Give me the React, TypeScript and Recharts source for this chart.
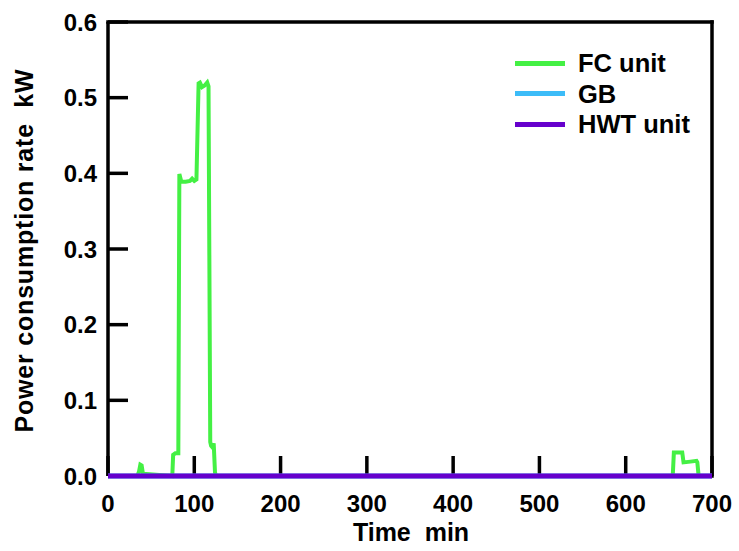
import React from 'react';
import { LineChart, Line, XAxis, YAxis, Legend } from 'recharts';

const xTicks = [0, 100, 200, 300, 400, 500, 600, 700];
const yTicks = [0, 0.1, 0.2, 0.3, 0.4, 0.5, 0.6];

const fcTime = [0, 34, 36, 37.5, 39, 40.5, 74.5, 75.5, 78, 81.5, 82.7, 85, 90, 95, 97.5, 100, 102.5, 105, 106.5, 109, 112, 115, 116.5, 118.5, 119.5, 121, 122.5, 124, 125, 654.5, 655.8, 665.5, 667, 675, 682, 683, 684.5, 700];
const fcPower = [0, 0, 0.006, 0.015, 0.014, 0.003, 0, 0.028, 0.03, 0.03, 0.399, 0.389, 0.389, 0.39, 0.393, 0.39, 0.392, 0.519, 0.52, 0.514, 0.516, 0.52, 0.515, 0.045, 0.04, 0.038, 0.043, 0.005, 0, 0, 0.031, 0.031, 0.018, 0.019, 0.02, 0.018, 0, 0];

const gbTime = [0, 700];
const gbPower = [0, 0];

const hwtTime = [0, 700];
const hwtPower = [0, 0];

const toData = (ts: number[], vs: number[]) => ts.map((t, i) => ({ t, v: vs[i] }));
const fcData = toData(fcTime, fcPower);
const gbData = toData(gbTime, gbPower);
const hwtData = toData(hwtTime, hwtPower);

const FONT = '"Liberation Sans", Arial, sans-serif';
const AX = 3.5;

const W = 739;
const H = 551;
const M_TOP = 22;
const M_RIGHT = 27;
const Y_W = 108;
const X_H = 75;
const PLOT_W = W - M_RIGHT - Y_W;
const PLOT_H = H - X_H - M_TOP;
const X_MAX = xTicks[xTicks.length - 1];
const Y_MAX = yTicks[yTicks.length - 1];

const XTick = (props: any) => {
  const { x, y, payload } = props;
  const isLast = Number(payload.value) === X_MAX;
  return (
    <g>
      <line x1={x} y1={y} x2={x} y2={y - 20} stroke="#000" strokeWidth={AX} />
      {isLast && <line x1={x} y1={y + AX / 2} x2={x} y2={y - PLOT_H - AX / 2} stroke="#000" strokeWidth={AX} />}
      <text x={x} y={y + 36} textAnchor="middle" fontFamily={FONT} fontWeight="bold" fontSize={24} fill="#000">
        {payload.value}
      </text>
    </g>
  );
};

const YTick = (props: any) => {
  const { x, y, payload } = props;
  const isLast = Math.abs(Number(payload.value) - Y_MAX) < 1e-9;
  return (
    <g>
      <line x1={x} y1={y} x2={x + 20} y2={y} stroke="#000" strokeWidth={AX} />
      {isLast && <line x1={x - AX / 2} y1={y} x2={x + PLOT_W + AX / 2} y2={y} stroke="#000" strokeWidth={AX} />}
      <text x={x - 11} y={y + 8.6} textAnchor="end" fontFamily={FONT} fontWeight="bold" fontSize={24} fill="#000">
        {Number(payload.value).toFixed(1)}
      </text>
    </g>
  );
};

const renderLegend = (props: any) => {
  const { payload } = props;
  return (
    <div style={{ fontFamily: FONT, fontWeight: 'bold', fontSize: 25.5, color: '#000' }}>
      {payload.map((p: any) => (
        <div key={p.value} style={{ display: 'flex', alignItems: 'center', height: 30.5, whiteSpace: 'nowrap' }}>
          <span style={{ display: 'inline-block', width: 50, height: 5, background: p.color, marginRight: 13 }} />
          <span style={{ lineHeight: '30px' }}>{p.value}</span>
        </div>
      ))}
    </div>
  );
};

export default function App() {
  return (
    <div style={{ position: 'absolute', left: 0, top: 0, width: W, height: H, background: '#fff' }}>
      <LineChart width={W} height={H} margin={{ top: M_TOP, right: M_RIGHT, bottom: 0, left: 0 }}>
        <XAxis
          dataKey="t"
          type="number"
          domain={[0, 700]}
          ticks={xTicks}
          height={X_H}
          tickSize={0}
          tickMargin={0}
          tickLine={false}
          axisLine={{ stroke: '#000', strokeWidth: AX }}
          tick={<XTick />}
          interval={0}
          label={{
            content: (p: any) => {
              const vb = p.viewBox;
              return (
                <text x={vb.x + vb.width / 2 + 1} y={541} textAnchor="middle" fontFamily={FONT} fontWeight="bold" fontSize={25} fill="#000">
                  {'Time\u00a0\u00a0min'}
                </text>
              );
            },
          }}
        />
        <YAxis
          type="number"
          domain={[0, 0.6]}
          ticks={yTicks}
          width={Y_W}
          tickSize={0}
          tickMargin={0}
          tickLine={false}
          axisLine={{ stroke: '#000', strokeWidth: AX }}
          tick={<YTick />}
          interval={0}
          label={{
            content: () => {
              const cy = 250.5;
              return (
                <text x={33} y={cy} transform={`rotate(-90, 33, ${cy})`} textAnchor="middle" fontFamily={FONT} fontWeight="bold" fontSize={25} letterSpacing={0.8} fill="#000">
                  {'Power consumption rate\u00a0\u00a0kW'}
                </text>
              );
            },
          }}
        />
        <Legend
          layout="vertical"
          align="center"
          verticalAlign="middle"
          content={renderLegend}
          wrapperStyle={{ position: 'absolute', left: 515, top: 48, width: 210, height: 95 }}
        />
        <Line data={fcData} dataKey="v" name="FC unit" type="linear" stroke="#44f044" strokeWidth={4} dot={false} isAnimationActive={false} zIndex={2500} />
        <Line data={gbData} dataKey="v" name="GB" type="linear" stroke="#3cbcf8" strokeWidth={5} dot={false} isAnimationActive={false} zIndex={2500} />
        <Line data={hwtData} dataKey="v" name="HWT unit" type="linear" stroke="#6600cc" strokeWidth={5} dot={false} isAnimationActive={false} zIndex={2500} />
      </LineChart>
    </div>
  );
}
